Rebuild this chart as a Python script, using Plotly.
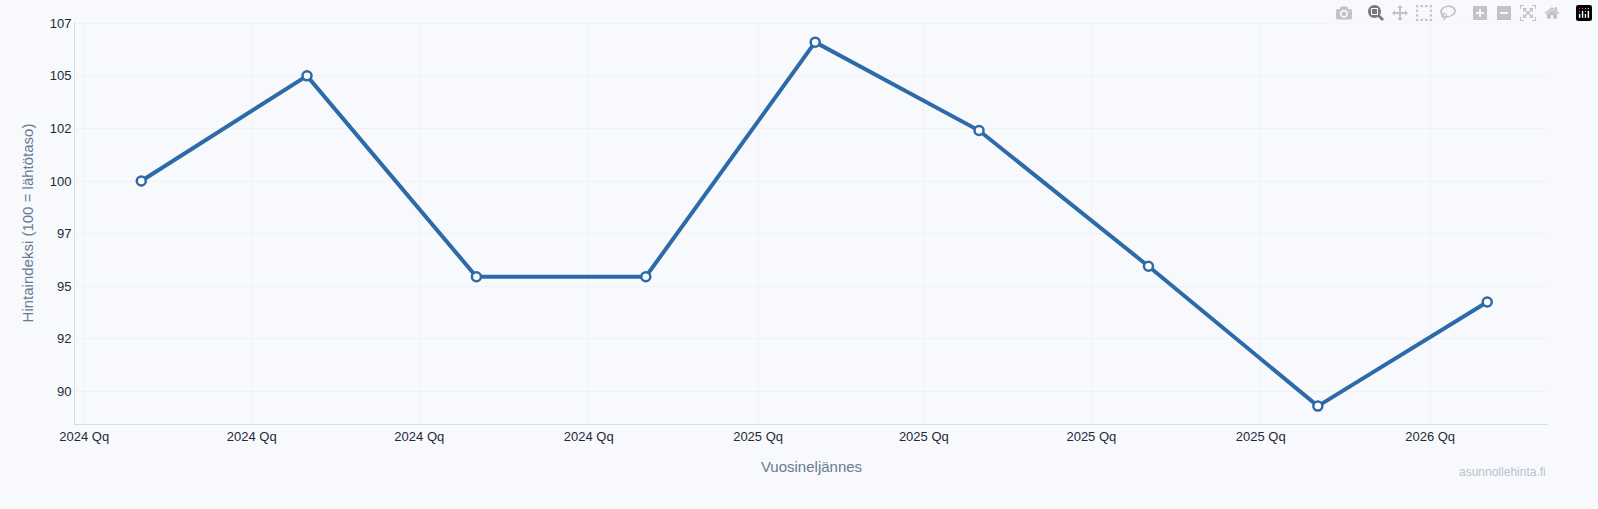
import plotly.graph_objects as go

# quarterly index values (second month of each quarter)
dates = ["2024-02-01", "2024-05-01", "2024-08-01", "2024-11-01", "2025-02-01",
         "2025-05-01", "2025-08-01", "2025-11-01", "2026-02-01"]
index_vals = [100.0, 105.0, 95.45, 95.45, 106.6, 102.4, 95.95, 89.3, 94.25]

y_ticks = [90, 92.5, 95, 97.5, 100, 102.5, 105, 107.5]
y_labels = ["90", "92", "95", "97", "100", "102", "105", "107"]

fig = go.Figure()
fig.add_trace(go.Scatter(
    x=dates, y=index_vals,
    mode="lines+markers",
    line=dict(color="#2d6aa8", width=4),
    marker=dict(color="white", size=9, line=dict(color="#2d6aa8", width=2.5)),
    showlegend=False,
    hoverinfo="skip"
))

fig.update_layout(
    width=1598, height=509,
    paper_bgcolor="#f7f9fc",
    plot_bgcolor="#f7f9fc",
    margin=dict(l=75, r=50, t=22, b=85),
    font=dict(family="Liberation Sans, Arial", size=13, color="#1f2937"),
    xaxis=dict(
        type="date",
        range=["2023-12-27", "2026-03-06"],
        tick0="2024-01-01", dtick="M3",
        tickformat="%Y Qq",
        showgrid=True, gridcolor="#eef1f5",
        showline=True, linecolor="#d5dde8",
        zeroline=False,
        title=dict(text="Vuosineljännes", font=dict(color="#6b7a90", size=15), standoff=18),
    ),
    yaxis=dict(
        range=[88.45, 107.56],
        tickvals=y_ticks, ticktext=y_labels,
        showgrid=True, gridcolor="#eef1f5",
        showline=True, linecolor="#d5dde8",
        zeroline=False,
        title=dict(text="Hintaindeksi (100 = lähtötaso)", font=dict(color="#6b7a90", size=15), standoff=12),
    ),
)

fig.add_annotation(
    text="asunnollehinta.fi", xref="paper", yref="paper",
    x=1.0, y=-0.12, xanchor="right", yanchor="middle", showarrow=False,
    font=dict(color="#b8c2d0", size=12)
)

fig.write_html(
    "out.html",
    post_script="document.body.style.margin='0';document.body.style.background='#f7f9fc';"
)
